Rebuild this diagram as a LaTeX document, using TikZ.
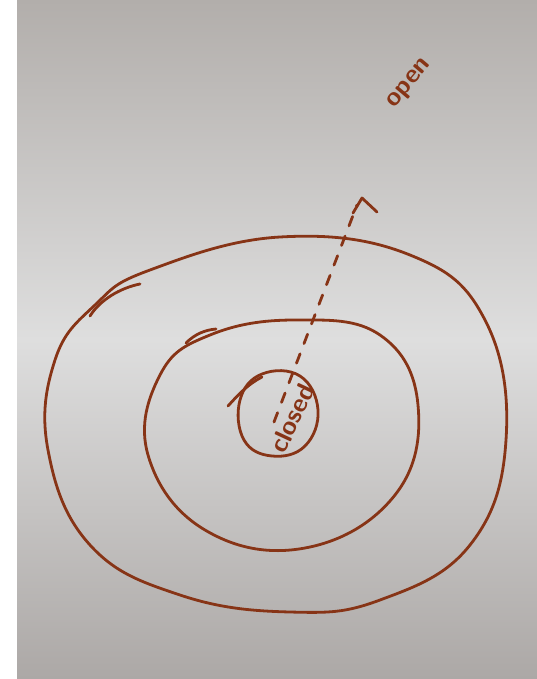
\documentclass[tikz,border=0pt]{standalone}
\usetikzlibrary{shadings}
\definecolor{ink}{RGB}{135,52,22}
\definecolor{papertop}{RGB}{178,174,171}
\definecolor{papermid}{RGB}{222,222,222}
\definecolor{paperbot}{RGB}{172,168,166}
\tikzset{
  pen/.style={draw=ink, line width=2.8pt, line cap=round, line join=round},
  lbl/.style={text=ink, font=\sffamily\bfseries\Large, inner sep=0pt, scale=1.8}
}
\begin{document}
\begin{tikzpicture}[x=1pt,y=-1pt]
\useasboundingbox (0,0) rectangle (537,679);
\fill[white] (0,0) rectangle (537,679);
\shade[top color=papertop, bottom color=papermid] (17,0) rectangle (537,340);
\shade[top color=papermid, bottom color=paperbot] (17,339) rectangle (537,679);
% outer loop
\draw[pen] plot[smooth cycle, tension=0.7] coordinates {(150,270) (280,237) (410,255) (485,320) (506,440) (470,545) (380,600) (290,612) (180,595) (90,545) (48,450) (55,360) (95,305)};
\draw[pen] (90,316) .. controls (100,300) and (120,288) .. (140,284);
% middle loop
\draw[pen] plot[smooth cycle, tension=0.7] coordinates {(210,335) (295,320) (380,335) (418,405) (395,495) (305,548) (205,530) (148,455) (160,375)};
\draw[pen] (186,343) .. controls (195,334) and (205,330) .. (216,329);
% inner circle
\draw[pen] plot[smooth cycle, tension=0.7] coordinates {(262,374) (300,376) (318,410) (305,446) (272,456) (244,440) (240,400)};
\draw[pen] (228,406) .. controls (238,395) and (248,384) .. (262,377);
\coordinate (start) at (274,422);
\coordinate (tip) at (357,205);
\draw[pen, dash pattern=on 10pt off 11pt] (start) -- (tip);
\draw[pen] (353,213) -- (362,198) -- (377,212);
\node[lbl, rotate=65] (closed) at (292,418) {closed};
\node[lbl, rotate=50] (open) at (410,84) {open};
\end{tikzpicture}
\end{document}
